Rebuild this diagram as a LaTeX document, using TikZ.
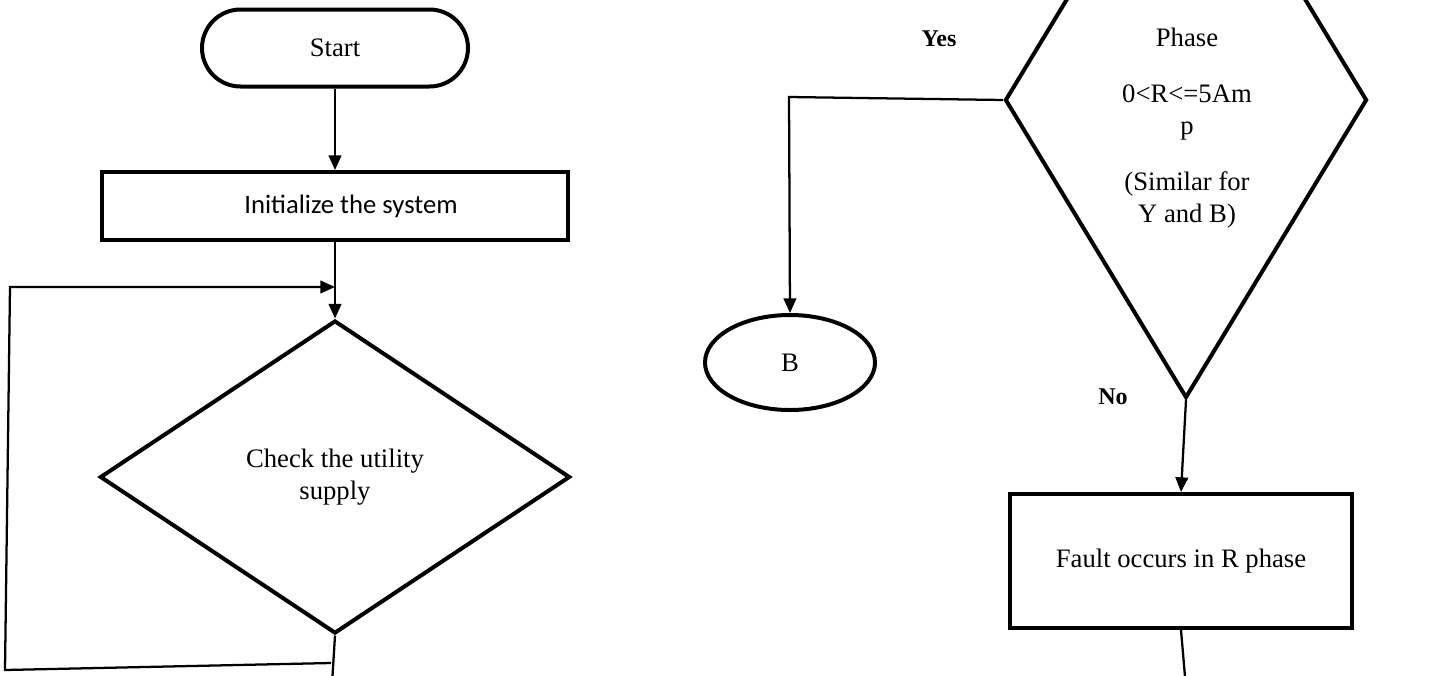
\documentclass[tikz,border=0pt]{standalone}
\usepackage{fontspec}
\setmainfont{Liberation Serif}
\newfontfamily\calibrifont{Carlito}
\usetikzlibrary{shapes.geometric,shapes.misc,arrows.meta}
\begin{document}
\begin{tikzpicture}[x=0.75pt,y=-0.75pt,
  shapeline/.style={draw=black, line width=3pt},
  conn/.style={draw=black, line width=1.7pt},
  arr/.style={conn, -{Triangle[length=11pt,width=9.5pt]}},
  txt/.style={font=\fontsize{20}{24}\selectfont, inner sep=0pt},
  lbl/.style={font=\fontsize{18}{22}\selectfont\bfseries, inner sep=0pt}]
\clip (0,0) rectangle (1452,675);
% left column
\node[shapeline, rounded rectangle, minimum width=199.5pt, minimum height=57.75pt, txt] (start) at (335,48) {\raisebox{-3pt}{Start}};
\node[shapeline, rectangle, minimum width=349.5pt, minimum height=51pt, font=\calibrifont\fontsize{20}{24}\selectfont, inner sep=0pt] (init) at (335,206) {\hspace*{24pt}Initialize the system};
\node[shapeline, diamond, minimum width=352.5pt, minimum height=234.75pt, txt, align=center] (check) at (335,477) {Check the utility\\supply};
\draw[arr] (start.south) -- (init.north);
\draw[arr] (init.south) -- (check.north);
\coordinate (offA) at (331,700);
\coordinate (lb) at (331,663);
\coordinate (ll1) at (5,670);
\coordinate (ll2) at (10,287);
\coordinate (la) at (335,287);
\draw[conn] (check.south) -- (offA);
\draw[arr] (lb) -- (ll1) -- (ll2) -- (la);
% right column
\node[shapeline, diamond, minimum width=271.5pt, minimum height=447pt] (phase) at (1186,100) {};
\node[txt, align=center, anchor=north] (phasetxt) at (1187,27.5) {Phase\\[18pt]0<R<=5Am\\p\\[18pt](Similar for\\Y and B)};
\node[lbl] (yes) at (939,39) {Yes};
\node[lbl] (no) at (1113,397) {No};
\node[shapeline, ellipse, minimum width=127.5pt, minimum height=71.25pt, txt] (ball) at (790,362.5) {B};
\node[shapeline, rectangle, minimum width=256.5pt, minimum height=100.5pt, txt] (fault) at (1181,561) {Fault occurs in R phase};
\coordinate (yc) at (789,97);
\draw[arr] (phase.west) -- (yc) -- (ball.north);
\draw[arr] (phase.south) -- (fault.north);
\coordinate (offB) at (1187,700);
\draw[conn] (fault.south) -- (offB);
\end{tikzpicture}
\end{document}
